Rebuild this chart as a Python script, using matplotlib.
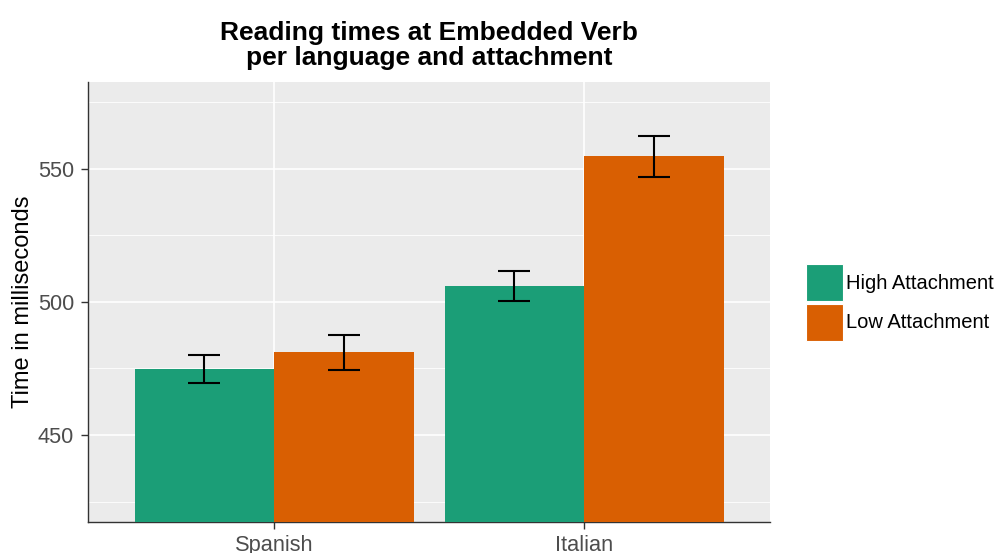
import matplotlib
matplotlib.use("Agg")
import matplotlib.pyplot as plt
import numpy as np

plt.rcParams['font.family'] = ['Liberation Sans', 'DejaVu Sans']

languages = ["Spanish", "Italian"]
attachments = ["High Attachment", "Low Attachment"]
means = {
    "High Attachment": [474.8, 506.0],
    "Low Attachment": [481.0, 554.6],
}
errors = {
    "High Attachment": [5.1, 5.5],
    "Low Attachment": [6.4, 7.6],
}
colors = {"High Attachment": "#1B9E77", "Low Attachment": "#D95F02"}

fig = plt.figure(figsize=(9.99, 5.53), dpi=100)
ax = fig.add_axes([88 / 999, 1 - 521.7 / 553, (770 - 88) / 999, (521.7 - 82) / 553])
ax.set_facecolor("#EBEBEB")

x = np.arange(1, len(languages) + 1)
bar_w = 0.45
offsets = {"High Attachment": -bar_w / 2, "Low Attachment": bar_w / 2}

for att in attachments:
    xs = x + offsets[att]
    ax.bar(xs, means[att], width=bar_w, color=colors[att], zorder=3,
           label=att, edgecolor="white", linewidth=0)
    ax.errorbar(xs, means[att], yerr=errors[att], fmt="none", ecolor="black",
                elinewidth=1.5, capsize=11.2, capthick=1.5, zorder=4)

# limits: 425-575 with 5% expansion
ax.set_ylim(417.5, 582.5)
ax.set_xlim(0.4, 2.6)

ax.set_yticks([450, 500, 550])
ax.set_yticks([425, 475, 525, 575], minor=True)
ax.set_xticks(x)
ax.set_xticklabels(languages)

ax.grid(True, which="major", color="white", linewidth=1.2, zorder=1)
ax.grid(True, which="minor", axis="y", color="white", linewidth=0.6, zorder=1)
ax.set_axisbelow(True)

for side in ["top", "right"]:
    ax.spines[side].set_visible(False)
for side in ["left", "bottom"]:
    ax.spines[side].set_color("#333333")
    ax.spines[side].set_linewidth(1.0)

ax.tick_params(axis="both", which="major", colors="#333333", length=5,
               width=1.0, labelsize=15.7, labelcolor="#4D4D4D")
ax.tick_params(axis="y", which="minor", length=0)
ax.tick_params(axis="x", pad=4.5)
ax.tick_params(axis="y", pad=5)

ax.set_ylabel("Time in milliseconds", fontsize=17, color="black", labelpad=2.5)
ax.set_title("Reading times at Embedded Verb\nper language and attachment",
             fontsize=19, fontweight="bold", pad=12.5, linespacing=1.05)

handles, labels = ax.get_legend_handles_labels()
leg = fig.legend(handles, labels, loc="center left",
                 bbox_to_anchor=(806 / 999, 1 - 302.5 / 553), frameon=False,
                 fontsize=14.5, handlelength=1.83, handleheight=2.45,
                 handletextpad=0.15, labelspacing=0.1, borderaxespad=0,
                 borderpad=0)
for h in leg.legend_handles:
    h.set_edgecolor("white")
    h.set_linewidth(0.8)

fig.savefig("out.png", dpi=100)
